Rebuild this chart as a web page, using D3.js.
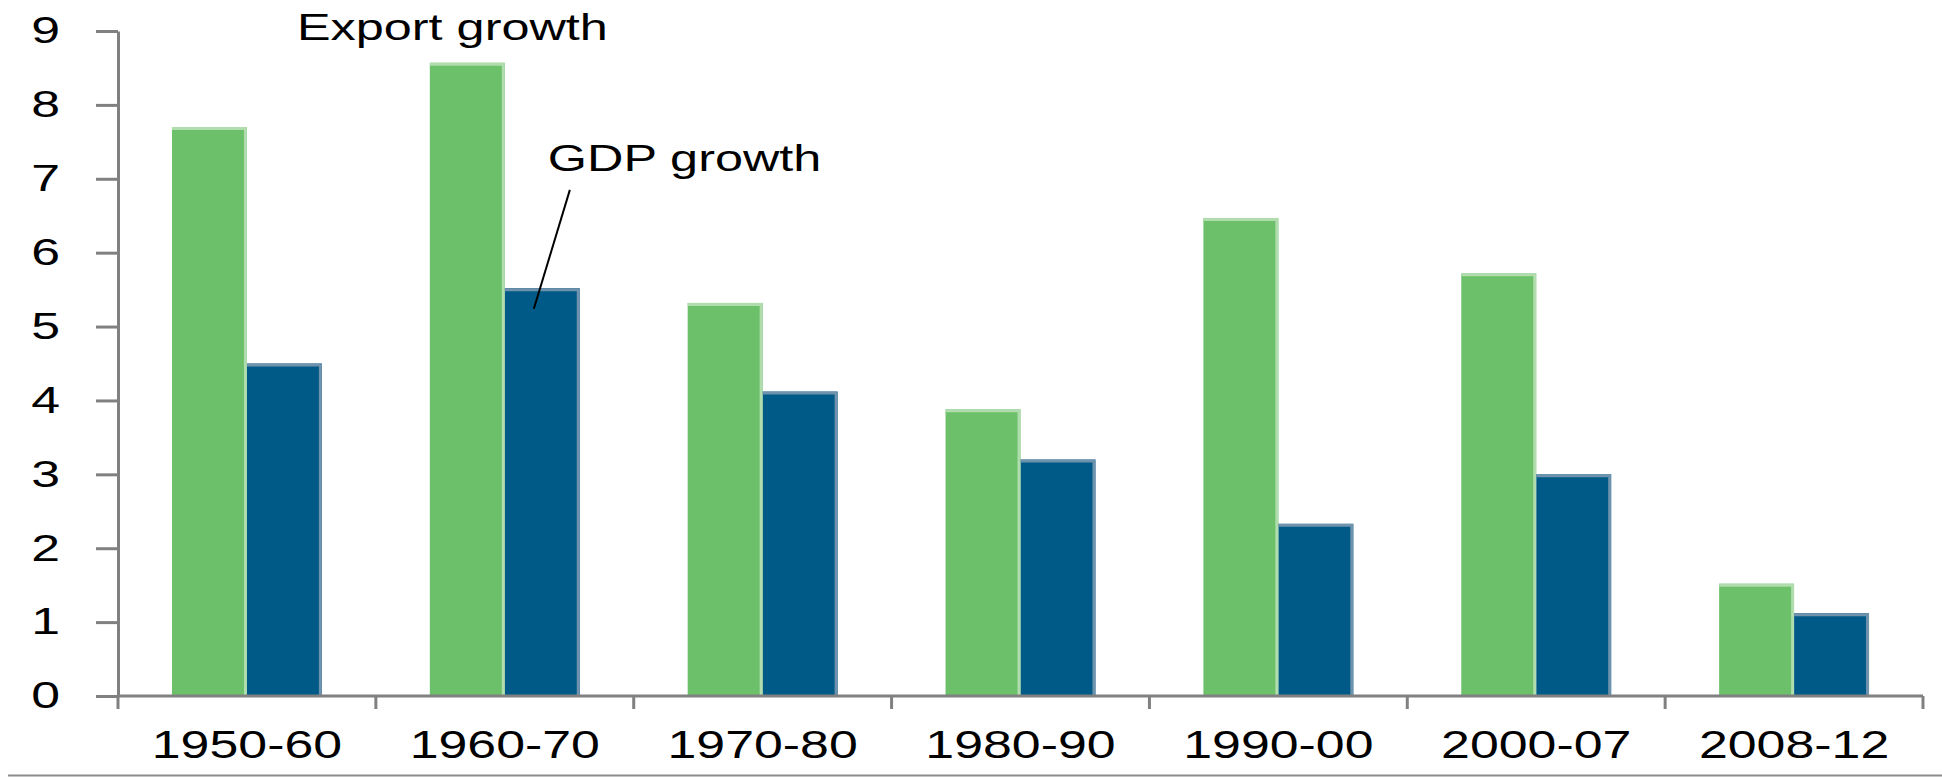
<!DOCTYPE html>
<html lang="en">
<head>
    <meta charset="UTF-8">
    <title>Export growth vs GDP growth</title>
    <script src="https://d3js.org/d3.v7.min.js"></script>
    <style>
        body { margin: 0; background: #fff; }
        svg { display: block; }
        text { font-family: "Liberation Sans", Arial, sans-serif; fill: #000; }
    </style>
</head>
<body>
<svg id="chart"></svg>
<script>
    // data
    const periods = ["1950-60", "1960-70", "1970-80", "1980-90", "1990-00", "2000-07", "2008-12"];
    const seriesNames = ["Export growth", "GDP growth"];
    const exportGrowth = [7.7, 8.57, 5.32, 3.88, 6.47, 5.72, 1.52];
    const gdpGrowth = [4.5, 5.52, 4.12, 3.2, 2.33, 3.0, 1.12];
    const yTicks = [0, 1, 2, 3, 4, 5, 6, 7, 8, 9];

    const W = 1942, H = 777;
    const margin = { top: 31, right: 19, bottom: 81, left: 118 };
    const stretch = 1.4; // the original text is drawn wide

    const colors = { "Export growth": "#6cc06a", "GDP growth": "#005a87" };
    const edges = { "Export growth": "#b0dcae", "GDP growth": "#6f92ad" };

    const svg = d3.select("#chart").attr("width", W).attr("height", H);

    const x0 = d3.scaleBand().domain(periods).range([margin.left, W - margin.right]).padding(0);
    const x1 = d3.scaleBand().domain(seriesNames).range([0, x0.bandwidth()]).paddingInner(0).paddingOuter(0.72);
    const y = d3.scaleLinear().domain([0, 9]).range([H - margin.bottom, margin.top]);

    const rows = periods.map((p, i) => ({
        period: p,
        values: [
            { key: "Export growth", value: exportGrowth[i] },
            { key: "GDP growth", value: gdpGrowth[i] }
        ]
    }));

    // bars
    const groups = svg.append("g").selectAll("g")
        .data(rows)
        .join("g")
        .attr("transform", d => `translate(${x0(d.period)},0)`);

    groups.selectAll("rect")
        .data(d => d.values)
        .join("rect")
        .attr("x", d => x1(d.key))
        .attr("y", d => y(d.value))
        .attr("width", x1.bandwidth())
        .attr("height", d => y(0) - y(d.value))
        .attr("fill", d => colors[d.key]);

    // lighter edge along top and right of each bar
    groups.selectAll("path.edge")
        .data(d => d.values)
        .join("path")
        .attr("class", "edge")
        .attr("fill", "none")
        .attr("stroke", d => edges[d.key])
        .attr("stroke-width", 3)
        .attr("d", d => {
            const l = x1(d.key), r = x1(d.key) + x1.bandwidth() - 1.5, t = y(d.value) + 1.5;
            return `M${l},${t}H${r}V${y(0)}`;
        });

    // y axis
    const yAxis = svg.append("g")
        .attr("transform", `translate(${margin.left},0)`)
        .call(d3.axisLeft(y).tickValues(yTicks).tickSize(22).tickSizeOuter(0).tickFormat(d3.format("d")));
    yAxis.select(".domain").attr("stroke", "#808080").attr("stroke-width", 3);
    yAxis.selectAll(".tick line").attr("stroke", "#808080").attr("stroke-width", 3);
    yAxis.selectAll(".tick text")
        .attr("font-size", 37)
        .attr("x", -58 / stretch)
        .attr("transform", `scale(${stretch},1)`);

    // x axis: ticks on category boundaries
    const xAxis = svg.append("g")
        .attr("transform", `translate(0,${y(0)})`);
    xAxis.append("line")
        .attr("x1", x0.range()[0]).attr("x2", x0.range()[1])
        .attr("stroke", "#808080").attr("stroke-width", 3);
    const bounds = periods.map(p => x0(p)).concat([x0.range()[1]]);
    xAxis.selectAll("line.tk")
        .data(bounds)
        .join("line")
        .attr("class", "tk")
        .attr("x1", d => d).attr("x2", d => d)
        .attr("y1", 0).attr("y2", 13)
        .attr("stroke", "#808080").attr("stroke-width", 3);
    xAxis.selectAll("text")
        .data(periods)
        .join("text")
        .attr("text-anchor", "middle")
        .attr("font-size", 39)
        .attr("transform", d => `translate(${x0(d) + x0.bandwidth() / 2},62) scale(1.33,1)`)
        .text(d => d);

    // thin rule at the very bottom
    svg.append("line")
        .attr("x1", 8).attr("x2", W)
        .attr("y1", H - 1.5).attr("y2", H - 1.5)
        .attr("stroke", "#8c8c8c").attr("stroke-width", 2);

    // annotations
    svg.append("text")
        .attr("font-size", 36)
        .attr("transform", `translate(${x0("1950-60") + 179},${y(8.88)}) scale(${stretch},1)`)
        .text("Export growth");

    svg.append("text")
        .attr("font-size", 36)
        .attr("transform", `translate(${x0("1960-70") + 172},${y(7.1)}) scale(${stretch},1)`)
        .text("GDP growth");

    svg.append("line")
        .attr("x1", x0("1960-70") + 194).attr("y1", y(6.85))
        .attr("x2", x0("1960-70") + 158).attr("y2", y(5.24))
        .attr("stroke", "#000").attr("stroke-width", 2);
</script>
</body>
</html>
